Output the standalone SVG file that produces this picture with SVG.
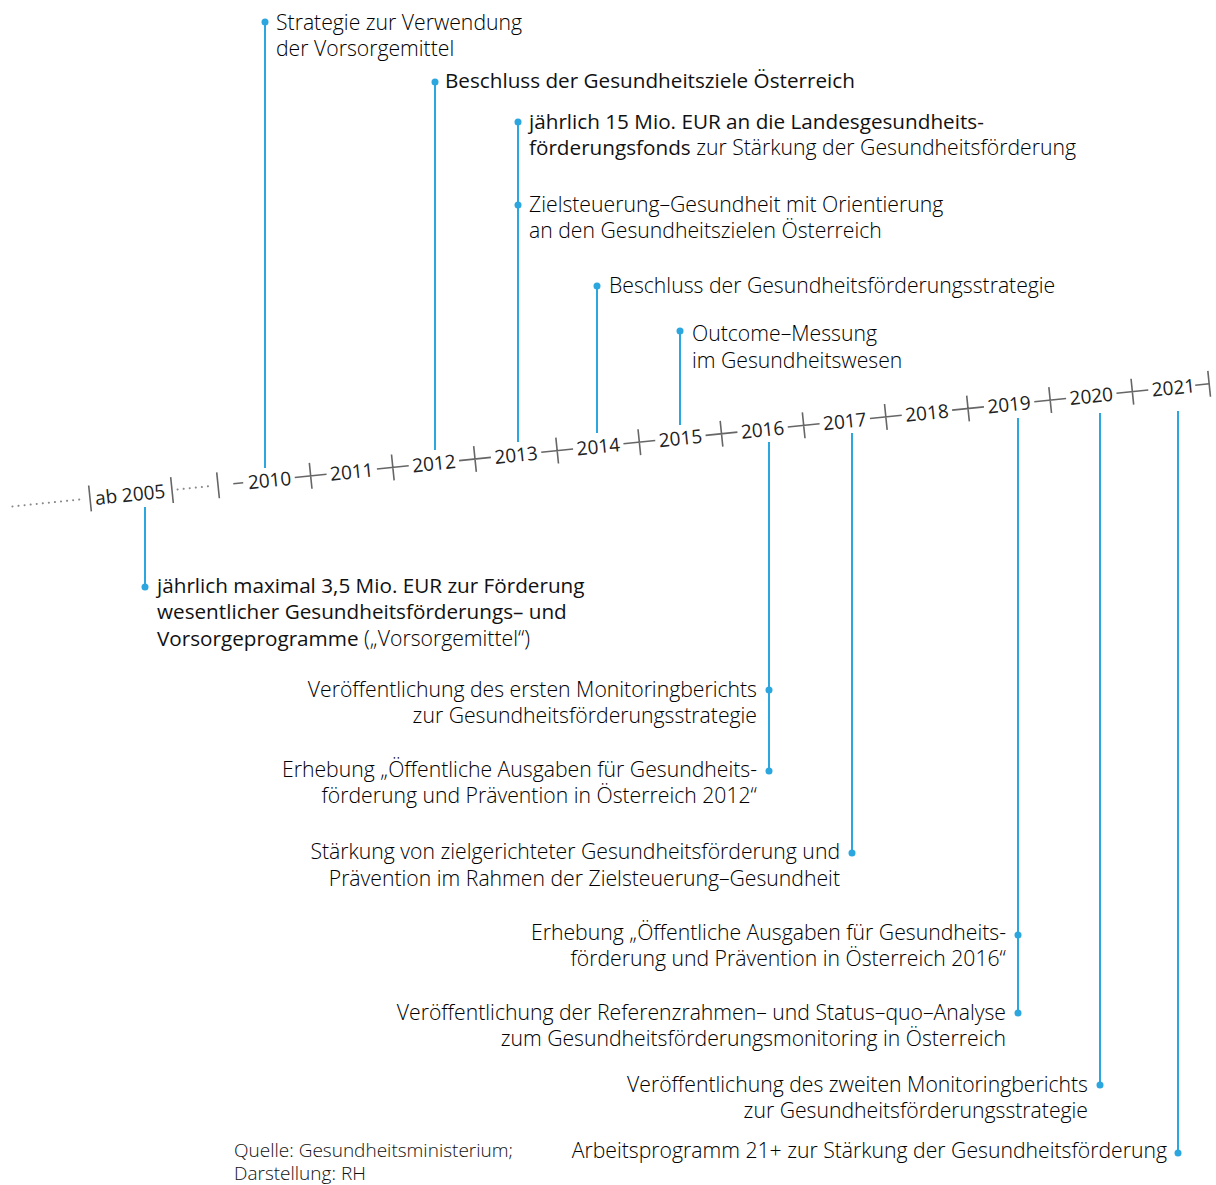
<svg xmlns="http://www.w3.org/2000/svg" width="1216" height="1185" viewBox="0 0 1216 1185">
<style>
  .t{font-family:"Open Sans","Noto Sans","Liberation Sans",sans-serif;font-size:21.2px;fill:#000;font-weight:300}
  .b{font-weight:400;fill:#111;font-size:20.7px}
  .e{text-anchor:end}
  .yr{font-family:"Open Sans","Noto Sans","Liberation Sans",sans-serif;font-size:19px;fill:#222;text-anchor:middle;font-weight:400}
  .ax{stroke:#666;stroke-width:1.6;fill:none}
  .dot{stroke:#888;stroke-width:2;stroke-dasharray:0.1 6;stroke-linecap:round;fill:none}
  .bl{stroke:#2ba6de;stroke-width:2;fill:none}
  .bd{fill:#2ba6de}
  .src{font-family:"Open Sans","Noto Sans","Liberation Sans",sans-serif;font-size:19px;fill:#111;font-weight:300}
</style>
<defs>
  <g id="cross"><path class="ax" d="M-16 0H16M0 -13V13"/></g>
  <g id="tick"><path class="ax" d="M0 -13V13"/></g>
</defs>

<g id="connectors">
  <path class="bl" d="M265 22V468"/>
  <path class="bl" d="M145 507V587"/>
  <path class="bl" d="M435 82V450"/>
  <path class="bl" d="M518 122V442"/>
  <path class="bl" d="M597 286V433"/>
  <path class="bl" d="M680 331V425"/>
  <path class="bl" d="M769 442V771"/>
  <path class="bl" d="M852 433V853"/>
  <path class="bl" d="M1018 418V1013"/>
  <path class="bl" d="M1100 413V1085"/>
  <path class="bl" d="M1178 411V1153"/>
</g>

<g id="axis" transform="translate(475 459) rotate(-5.85)">
  <path class="dot" d="M-465 0H-392"/>
  <use href="#tick" x="-387"/>
  <text class="yr" x="-346.8" y="7">ab 2005</text>
  <use href="#tick" x="-304.6"/>
  <path class="dot" d="M-299 0H-263"/>
  <use href="#tick" x="-258.3"/>
  <path class="ax" d="M-243 0H-233"/>
  <text class="yr" x="-206.5" y="7">2010</text>
  <use href="#cross" x="-165.2"/>
  <text class="yr" x="-123.9" y="7">2011</text>
  <use href="#cross" x="-82.6"/>
  <text class="yr" x="-41.3" y="7">2012</text>
  <use href="#cross" x="0"/>
  <text class="yr" x="41.3" y="7">2013</text>
  <use href="#cross" x="82.6"/>
  <text class="yr" x="123.9" y="7">2014</text>
  <use href="#cross" x="165.2"/>
  <text class="yr" x="206.5" y="7">2015</text>
  <use href="#cross" x="247.8"/>
  <text class="yr" x="289.1" y="7">2016</text>
  <use href="#cross" x="330.4"/>
  <text class="yr" x="371.7" y="7">2017</text>
  <use href="#cross" x="413"/>
  <text class="yr" x="454.3" y="7">2018</text>
  <use href="#cross" x="495.6"/>
  <text class="yr" x="536.9" y="7">2019</text>
  <use href="#cross" x="578.2"/>
  <text class="yr" x="619.5" y="7">2020</text>
  <use href="#cross" x="660.8"/>
  <text class="yr" x="702.1" y="7">2021</text>
  <path class="ax" d="M724 0H738"/>
  <use href="#tick" x="738"/>
</g>

<g id="n2010">
  <circle class="bd" cx="265" cy="22" r="3.5"/>
  <text class="t" x="276" y="30">Strategie zur Verwendung</text>
  <text class="t" x="276" y="56">der Vorsorgemittel</text>
</g>
<g id="n2005">
  <circle class="bd" cx="145" cy="587" r="3.5"/>
  <text class="t b" x="157" y="593">jährlich maximal 3,5 Mio. EUR zur Förderung</text>
  <text class="t b" x="157" y="619">wesentlicher Gesundheitsförderungs– und</text>
  <text class="t" x="157" y="646"><tspan class="b">Vorsorgeprogramme</tspan> („Vorsorgemittel“)</text>
</g>
<g id="n2012">
  <circle class="bd" cx="435" cy="82" r="3.5"/>
  <text class="t b" x="445" y="88">Beschluss der Gesundheitsziele Österreich</text>
</g>
<g id="n2013a">
  <circle class="bd" cx="518" cy="122" r="3.5"/>
  <text class="t b" x="529" y="129">jährlich 15 Mio. EUR an die Landesgesundheits-</text>
  <text class="t" x="529" y="155"><tspan class="b">förderungsfonds</tspan> zur Stärkung der Gesundheitsförderung</text>
</g>
<g id="n2013b">
  <circle class="bd" cx="518" cy="205" r="3.5"/>
  <text class="t" x="529" y="212">Zielsteuerung–Gesundheit mit Orientierung</text>
  <text class="t" x="529" y="238">an den Gesundheitszielen Österreich</text>
</g>
<g id="n2014">
  <circle class="bd" cx="597" cy="286" r="3.5"/>
  <text class="t" x="609" y="293">Beschluss der Gesundheitsförderungsstrategie</text>
</g>
<g id="n2015">
  <circle class="bd" cx="680" cy="331" r="3.5"/>
  <text class="t" x="692" y="341">Outcome–Messung</text>
  <text class="t" x="692" y="368">im Gesundheitswesen</text>
</g>
<g id="n2016a">
  <circle class="bd" cx="769" cy="690" r="3.5"/>
  <text class="t e" x="757" y="697">Veröffentlichung des ersten Monitoringberichts</text>
  <text class="t e" x="757" y="723">zur Gesundheitsförderungsstrategie</text>
</g>
<g id="n2016b">
  <circle class="bd" cx="769" cy="771" r="3.5"/>
  <text class="t e" x="757" y="777">Erhebung „Öffentliche Ausgaben für Gesundheits-</text>
  <text class="t e" x="757" y="803">förderung und Prävention in Österreich 2012“</text>
</g>
<g id="n2017">
  <circle class="bd" cx="852" cy="853" r="3.5"/>
  <text class="t e" x="840" y="859">Stärkung von zielgerichteter Gesundheitsförderung und</text>
  <text class="t e" x="840" y="886">Prävention im Rahmen der Zielsteuerung–Gesundheit</text>
</g>
<g id="n2019a">
  <circle class="bd" cx="1018" cy="935" r="3.5"/>
  <text class="t e" x="1006" y="940">Erhebung „Öffentliche Ausgaben für Gesundheits-</text>
  <text class="t e" x="1006" y="966">förderung und Prävention in Österreich 2016“</text>
</g>
<g id="n2019b">
  <circle class="bd" cx="1018" cy="1013" r="3.5"/>
  <text class="t e" x="1006" y="1020">Veröffentlichung der Referenzrahmen– und Status–quo–Analyse</text>
  <text class="t e" x="1006" y="1046">zum Gesundheitsförderungsmonitoring in Österreich</text>
</g>
<g id="n2020">
  <circle class="bd" cx="1100" cy="1085" r="3.5"/>
  <text class="t e" x="1088" y="1092">Veröffentlichung des zweiten Monitoringberichts</text>
  <text class="t e" x="1088" y="1118">zur Gesundheitsförderungsstrategie</text>
</g>
<g id="n2021">
  <circle class="bd" cx="1178" cy="1153" r="3.5"/>
  <text class="t e" x="1167" y="1158">Arbeitsprogramm 21+ zur Stärkung der Gesundheitsförderung</text>
</g>

<g id="source">
  <text class="src" x="234" y="1157">Quelle: Gesundheitsministerium;</text>
  <text class="src" x="234" y="1180">Darstellung: RH</text>
</g>
</svg>
